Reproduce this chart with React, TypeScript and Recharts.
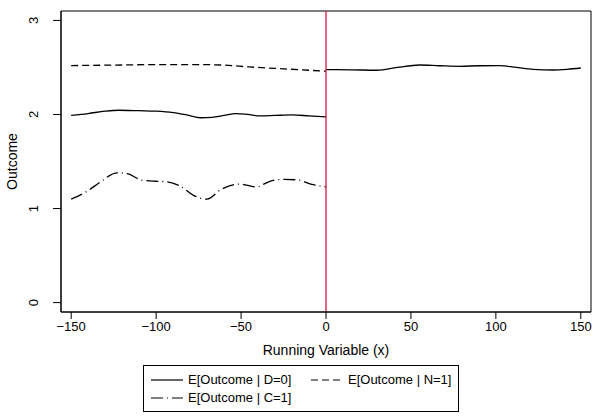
import React from 'react';
import {
  LineChart,
  Line,
  XAxis,
  YAxis,
  Label,
  Legend,
  ReferenceLine,
  ReferenceArea
} from 'recharts';

// values
const xTicks = [-150, -100, -50, 0, 50, 100, 150];
const yTicks = [0, 1, 2, 3];
const legendOrder = ['E[Outcome | D=0]', 'E[Outcome | N=1]', 'E[Outcome | C=1]'];

const untreatedLeft = [
  { x: -150, y: 1.99 }, { x: -140, y: 2.01 }, { x: -130, y: 2.035 }, { x: -122, y: 2.045 },
  { x: -110, y: 2.04 }, { x: -100, y: 2.035 }, { x: -90, y: 2.02 }, { x: -82, y: 1.995 },
  { x: -74, y: 1.965 }, { x: -67, y: 1.97 }, { x: -60, y: 1.99 }, { x: -53, y: 2.01 },
  { x: -46, y: 2.0 }, { x: -39, y: 1.985 }, { x: -30, y: 1.99 }, { x: -20, y: 1.995 },
  { x: -10, y: 1.985 }, { x: 0, y: 1.975 }
];

const untreatedRight = [
  { x: 0, y: 2.477 }, { x: 15, y: 2.475 }, { x: 30, y: 2.47 }, { x: 42, y: 2.5 },
  { x: 55, y: 2.526 }, { x: 67, y: 2.518 }, { x: 79, y: 2.512 }, { x: 90, y: 2.518 },
  { x: 102, y: 2.519 }, { x: 112, y: 2.5 }, { x: 122, y: 2.48 }, { x: 134, y: 2.473 },
  { x: 142, y: 2.48 }, { x: 150, y: 2.494 }
];

const neverTakers = [
  { x: -150, y: 2.52 }, { x: -125, y: 2.525 }, { x: -100, y: 2.53 }, { x: -75, y: 2.53 },
  { x: -60, y: 2.525 }, { x: -45, y: 2.505 }, { x: -30, y: 2.49 }, { x: -15, y: 2.475 },
  { x: 0, y: 2.46 }
];

const compliers = [
  { x: -150, y: 1.1 }, { x: -141, y: 1.18 }, { x: -133, y: 1.28 }, { x: -123, y: 1.38 },
  { x: -117, y: 1.37 }, { x: -108, y: 1.3 }, { x: -100, y: 1.29 }, { x: -94, y: 1.285 },
  { x: -86, y: 1.24 }, { x: -78, y: 1.14 }, { x: -70, y: 1.1 }, { x: -62, y: 1.2 },
  { x: -51, y: 1.26 }, { x: -41, y: 1.23 }, { x: -33, y: 1.29 }, { x: -25, y: 1.31 },
  { x: -17, y: 1.305 }, { x: -9, y: 1.26 }, { x: 0, y: 1.23 }
];

const FONT = '"Liberation Sans", Arial, sans-serif';
const FS = 13;
const LAB = 14;

const YTick = (props: any) => {
  const { x, y, payload } = props;
  return (
    <text
      x={x}
      y={y}
      transform={`rotate(-90 ${x} ${y})`}
      textAnchor="middle"
      fontFamily={FONT}
      fontSize={FS}
      fill="#000"
    >
      {payload.value}
    </text>
  );
};

const fmtX = (v: number) => (v < 0 ? '\u2212' + Math.abs(v) : String(v));

const LegendSample = ({ dash }: { dash?: string }) => (
  <svg width={32} height={10} style={{ display: 'block', flex: 'none' }}>
    <line x1={0} y1={5} x2={32} y2={5} stroke="#000" strokeWidth={1.2} strokeDasharray={dash} />
  </svg>
);

const renderLegend = (props: any) => {
  const items = (props.payload || [])
    .filter((p: any) => legendOrder.includes(p.value))
    .sort((a: any, b: any) => legendOrder.indexOf(a.value) - legendOrder.indexOf(b.value));
  return (
    <div
      style={{
        border: '1px solid #000',
        boxSizing: 'border-box',
        width: '100%',
        height: '100%',
        padding: '6px 7px',
        display: 'grid',
        gridTemplateColumns: '160px 1fr',
        rowGap: 3,
        fontFamily: FONT,
        fontSize: FS,
        color: '#000'
      }}
    >
      {items.map((it: any) => (
        <div key={it.value} style={{ display: 'flex', alignItems: 'center', gap: 5, whiteSpace: 'nowrap' }}>
          <LegendSample dash={it.payload?.strokeDasharray} />
          <span>{it.value}</span>
        </div>
      ))}
    </div>
  );
};

export default function App() {
  return (
    <div style={{ position: 'absolute', left: 0, top: 0 }}>
      <LineChart width={594} height={417} margin={{ top: 11, right: 3, bottom: 65, left: 0 }}>
        <XAxis
          type="number"
          dataKey="x"
          domain={[-156, 156]}
          ticks={xTicks}
          allowDataOverflow
          tickFormatter={fmtX}
          tick={{ fill: '#000', fontSize: FS, fontFamily: FONT }}
          tickSize={7}
          tickMargin={3}
          height={40}
          stroke="#000"
        >
          <Label
            content={(p: any) => {
              const vb = p.viewBox || {};
              return (
                <text
                  x={vb.x + vb.width / 2}
                  y={vb.y + vb.height + 3}
                  textAnchor="middle"
                  fontFamily={FONT}
                  fontSize={LAB}
                  fill="#000"
                >
                  Running Variable (x)
                </text>
              );
            }}
          />
        </XAxis>
        <YAxis
          type="number"
          dataKey="y"
          domain={[-0.1, 3.1]}
          ticks={yTicks}
          allowDataOverflow
          tick={<YTick />}
          tickSize={8}
          tickMargin={15}
          width={61}
          stroke="#000"
        >
          <Label
            content={(p: any) => {
              const vb = p.viewBox || {};
              const cy = vb.y + vb.height / 2;
              return (
                <text
                  x={17}
                  y={cy}
                  transform={`rotate(-90 17 ${cy})`}
                  textAnchor="middle"
                  fontFamily={FONT}
                  fontSize={LAB}
                  fill="#000"
                >
                  Outcome
                </text>
              );
            }}
          />
        </YAxis>
        <ReferenceArea
          x1={-156}
          x2={156}
          y1={-0.1}
          y2={3.1}
          fill="none"
          fillOpacity={0}
          stroke="#000"
          strokeWidth={1}
          ifOverflow="visible"
        />
        <Line
          data={untreatedLeft}
          dataKey="y"
          name="E[Outcome | D=0]"
          type="monotone"
          stroke="#000"
          strokeWidth={1.3}
          dot={false}
          isAnimationActive={false}
        />
        <Line
          data={neverTakers}
          dataKey="y"
          name="E[Outcome | N=1]"
          type="monotone"
          stroke="#000"
          strokeWidth={1.3}
          strokeDasharray="7 4"
          dot={false}
          isAnimationActive={false}
        />
        <Line
          data={compliers}
          dataKey="y"
          name="E[Outcome | C=1]"
          type="monotone"
          stroke="#000"
          strokeWidth={1.3}
          strokeDasharray="12 4 1 4"
          dot={false}
          isAnimationActive={false}
        />
        <Line
          data={untreatedRight}
          dataKey="y"
          name="right"
          legendType="none"
          type="monotone"
          stroke="#000"
          strokeWidth={1.3}
          dot={false}
          isAnimationActive={false}
        />
        <ReferenceLine x={0} stroke="#d6163f" strokeWidth={1.3} ifOverflow="extendDomain" />
        <Legend
          layout="horizontal"
          verticalAlign="middle"
          align="center"
          content={renderLegend}
          wrapperStyle={{ left: 143, top: 365, width: 316, height: 47 }}
        />
      </LineChart>
    </div>
  );
}
